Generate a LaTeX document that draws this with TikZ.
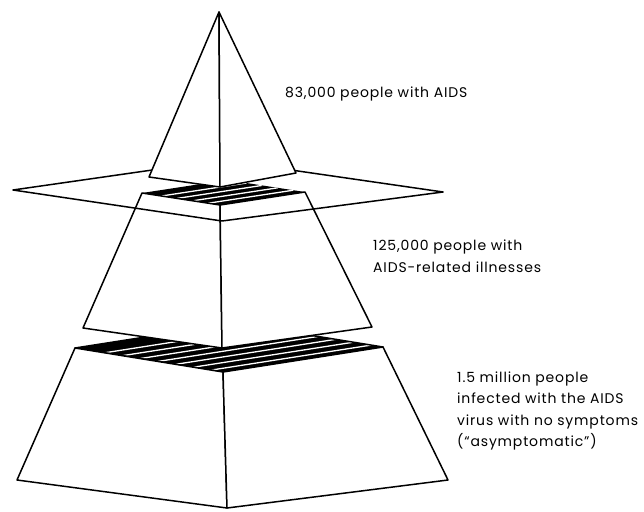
\documentclass[tikz,border=0pt]{standalone}
\usepackage{fontspec}
\setmainfont{Poppins}[LetterSpace=6,Numbers=Proportional]
\usetikzlibrary{calc}
\tikzset{
  edge/.style={line width=1.5pt, line join=round},
  face/.style={edge, fill=white},
  stripe/.style={white, line width=1.3pt},
  caption/.style={font=\fontsize{14}{21.5}\selectfont, align=left, anchor=west, inner sep=0pt}
}

\begin{document}
\begin{tikzpicture}[x=1pt,y=-1pt]
  \useasboundingbox (0,0) rectangle (644,511);

  % bottom block: 1.5 million
  \coordinate (lowL) at (75,348);
  \coordinate (lowF) at (223,372);
  \coordinate (lowR) at (383,347);
  \coordinate (lowB) at ($(lowL)+(lowR)-(lowF)$);
  \coordinate (baseL) at (17,480);
  \coordinate (baseF) at (227,508);
  \coordinate (baseR) at (448,480);
  \fill (lowF) -- (lowL) -- (lowB) -- (lowR) -- cycle;
  \begin{scope}
    \clip (lowF) -- (lowL) -- (lowB) -- (lowR) -- cycle;
    \foreach \t in {0.08,0.2,...,0.9} {
      \draw[stripe] ($(lowF)!\t!(lowL)$) -- ++($(lowR)-(lowF)$);
    }
  \end{scope}
  \draw[edge] (lowF) -- (lowL) -- (lowB) -- (lowR) -- cycle;
  \draw[face] (lowL) -- (lowF) -- (baseF) -- (baseL) -- cycle;
  \draw[face] (lowF) -- (lowR) -- (baseR) -- (baseF) -- cycle;

  % middle block: 125,000
  \coordinate (midL) at (142,193);
  \coordinate (midF) at (220,205);
  \coordinate (midR) at (305,192);
  \coordinate (midB) at ($(midL)+(midR)-(midF)$);
  \coordinate (footL) at (83,328);
  \coordinate (footF) at (222,348);
  \coordinate (footR) at (372,327);
  \fill (midF) -- (midL) -- (midB) -- (midR) -- cycle;
  \begin{scope}
    \clip (midF) -- (midL) -- (midB) -- (midR) -- cycle;
    \foreach \t in {0.15,0.35,...,0.9} {
      \draw[stripe] ($(midF)!\t!(midL)$) -- ++($(midR)-(midF)$);
    }
  \end{scope}
  \draw[face] (midL) -- (midF) -- (footF) -- (footL) -- cycle;
  \draw[face] (midF) -- (midR) -- (footR) -- (footF) -- cycle;

  % plane cutting the middle block
  \coordinate (planeL) at (13,190);
  \coordinate (planeF) at (222,221);
  \coordinate (planeR) at (443,192);
  \coordinate (planeB) at (222,160);
  \draw[edge] (planeB) -- (planeL) -- (planeF) -- (planeR) -- cycle;

  % top pyramid: 83,000
  \coordinate (apex) at (219,12);
  \coordinate (topL) at (149,177);
  \coordinate (topF) at (220,187);
  \coordinate (topR) at (296,173);
  \draw[face] (apex) -- (topL) -- (topF) -- cycle;
  \draw[face] (apex) -- (topF) -- (topR) -- cycle;

  \node[caption] (aids) at (285,94) {83,000 people with AIDS};
  \node[caption] (arc) at (373,256) {125,000 people with\\AIDS-related illnesses};
  \node[caption] (hiv) at (457,411) {1.5 million people\\infected with the AIDS\\virus with no symptoms\\(“asymptomatic”)};
\end{tikzpicture}
\end{document}
